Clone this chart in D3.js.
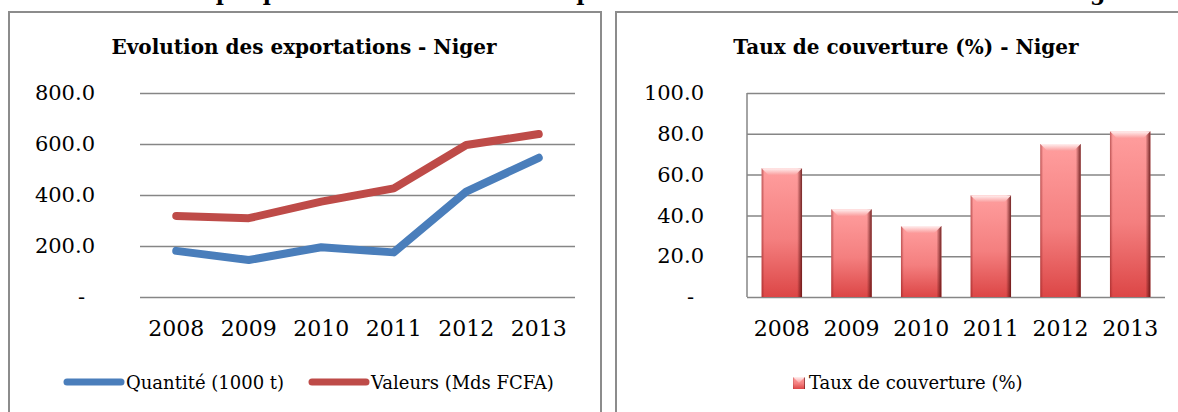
<!DOCTYPE html>
<html>
<head>
<meta charset="utf-8">
<script src="https://cdn.jsdelivr.net/npm/d3@7/dist/d3.min.js"></script>
<style>
  body { margin: 0; background: #fff; }
  svg { display: block; font-family: 'DejaVu Serif', serif; }
  .tick text { fill: #000; }
</style>
</head>
<body>
<div id="canvas"></div>
<script>
const years = ['2008', '2009', '2010', '2011', '2012', '2013'];
const quantite = [181, 145, 195, 175, 413, 546];
const valeurs = [318, 309, 374, 426, 596, 639];
const taux = [63.1, 43.0, 34.8, 49.8, 75.0, 81.2];
const ticksLeft = [0, 200, 400, 600, 800];
const ticksRight = [0, 20, 40, 60, 80, 100];

const w = 1178;
const h = 412;
const fmt = (d) => d === 0 ? '-' : d3.format('.1f')(d);

const svg = d3.select('#canvas')
  .append('svg')
  .attr('width', w)
  .attr('height', h);

const defs = svg.append('defs');
const gBody = defs.append('linearGradient').attr('id', 'barBody')
  .attr('x1', 0).attr('y1', 0).attr('x2', 0).attr('y2', 1);
gBody.append('stop').attr('offset', '0%').attr('stop-color', '#ff9e9e');
gBody.append('stop').attr('offset', '55%').attr('stop-color', '#f47f7f');
gBody.append('stop').attr('offset', '100%').attr('stop-color', '#dc4646');
const gEdge = defs.append('linearGradient').attr('id', 'barEdge')
  .attr('x1', 0).attr('y1', 0).attr('x2', 1).attr('y2', 0);
gEdge.append('stop').attr('offset', '0%').attr('stop-color', '#8a2020').attr('stop-opacity', 0.55);
gEdge.append('stop').attr('offset', '7%').attr('stop-color', '#8a2020').attr('stop-opacity', 0);
gEdge.append('stop').attr('offset', '88%').attr('stop-color', '#5a1010').attr('stop-opacity', 0);
gEdge.append('stop').attr('offset', '100%').attr('stop-color', '#5a1010').attr('stop-opacity', 0.85);
const gTop = defs.append('linearGradient').attr('id', 'barTop')
  .attr('x1', 0).attr('y1', 0).attr('x2', 0).attr('y2', 1);
gTop.append('stop').attr('offset', '0%').attr('stop-color', '#fff0f0');
gTop.append('stop').attr('offset', '100%').attr('stop-color', '#fb9a9a');

// main title, only its lower part shows at the top edge (as in the source)
svg.append('text')
  .attr('x', 651)
  .attr('y', 0)
  .attr('text-anchor', 'middle')
  .style('font-weight', 'bold')
  .style('font-size', '22px')
  .text('Graphique n°1 : Evolution des exportations et du taux de couverture du Niger');

// frames
svg.append('rect')
  .attr('x', 9).attr('y', 12).attr('width', 592).attr('height', 430)
  .attr('fill', 'none').attr('stroke', '#8c8c8c').attr('stroke-width', 2);
svg.append('rect')
  .attr('x', 616).attr('y', 12).attr('width', 600).attr('height', 430)
  .attr('fill', 'none').attr('stroke', '#8c8c8c').attr('stroke-width', 2);

// ---------- left chart: lines ----------
const left = { x0: 140, x1: 575, y0: 297, y1: 93 };
const xL = d3.scaleBand().domain(years).range([left.x0, left.x1]);
const yL = d3.scaleLinear().domain([0, 800]).range([left.y0, left.y1]);

svg.append('text')
  .attr('x', 304).attr('y', 54)
  .attr('text-anchor', 'middle')
  .style('font-weight', 'bold')
  .style('font-size', '20px')
  .text('Evolution des exportations - Niger');

svg.append('g')
  .attr('transform', 'translate(' + left.x0 + ',0)')
  .call(d3.axisLeft(yL).tickValues(ticksLeft).tickSize(-(left.x1 - left.x0)).tickFormat(''))
  .call(g => g.select('.domain').remove())
  .call(g => g.selectAll('line').attr('stroke', '#868686').attr('stroke-width', 1.5));

svg.append('g')
  .attr('transform', 'translate(95,0)')
  .call(d3.axisLeft(yL).tickValues(ticksLeft).tickSize(0).tickPadding(0).tickFormat(fmt))
  .call(g => g.select('.domain').remove())
  .call(g => g.selectAll('text').style('font-size', '21px').style('font-family', 'DejaVu Serif'))
  .call(g => g.selectAll('.tick').filter(d => d === 0).select('text').attr('x', -10));

svg.append('g')
  .attr('transform', 'translate(0,' + left.y0 + ')')
  .call(d3.axisBottom(xL).tickSize(0).tickPadding(23))
  .call(g => g.select('.domain').remove())
  .call(g => g.selectAll('text').style('font-size', '22px').style('font-family', 'DejaVu Serif'));

const line = d3.line()
  .x((d, i) => xL(years[i]) + xL.bandwidth() / 2)
  .y(d => yL(d));

[[valeurs, '#be4b48'], [quantite, '#4a7ebb']].forEach(([vals, col]) => {
  svg.append('path')
    .datum(vals)
    .attr('d', line)
    .attr('fill', 'none')
    .attr('stroke', col)
    .attr('stroke-width', 8)
    .attr('stroke-linecap', 'round')
    .attr('stroke-linejoin', 'round');
});

// left legend
const legL = [
  { label: 'Quantité (1000 t)', color: '#4a7ebb', x: 67 },
  { label: 'Valeurs (Mds FCFA)', color: '#be4b48', x: 312 }
];
legL.forEach(d => {
  svg.append('line')
    .attr('x1', d.x).attr('x2', d.x + 54)
    .attr('y1', 382).attr('y2', 382)
    .attr('stroke', d.color).attr('stroke-width', 7).attr('stroke-linecap', 'round');
  svg.append('text')
    .attr('x', d.x + 59).attr('y', 389)
    .style('font-size', '18px')
    .text(d.label);
});

// ---------- right chart: bars ----------
const right = { x0: 747, x1: 1165, y0: 297, y1: 93 };
const xR = d3.scaleBand().domain(years).range([right.x0, right.x1]).paddingInner(0.42).paddingOuter(0.21);
const yR = d3.scaleLinear().domain([0, 100]).range([right.y0, right.y1]);

svg.append('text')
  .attr('x', 906).attr('y', 54)
  .attr('text-anchor', 'middle')
  .style('font-weight', 'bold')
  .style('font-size', '20px')
  .text('Taux de couverture (%) - Niger');

svg.append('g')
  .attr('transform', 'translate(' + right.x0 + ',0)')
  .call(d3.axisLeft(yR).tickValues(ticksRight).tickSize(-(right.x1 - right.x0)).tickFormat(''))
  .call(g => g.select('.domain').remove())
  .call(g => g.selectAll('line').attr('stroke', '#868686').attr('stroke-width', 1.5));

svg.append('line')
  .attr('x1', right.x0).attr('x2', right.x0)
  .attr('y1', right.y1).attr('y2', right.y0)
  .attr('stroke', '#868686').attr('stroke-width', 1.5);

svg.append('g')
  .attr('transform', 'translate(704,0)')
  .call(d3.axisLeft(yR).tickValues(ticksRight).tickSize(0).tickPadding(0).tickFormat(fmt))
  .call(g => g.select('.domain').remove())
  .call(g => g.selectAll('text').style('font-size', '21px').style('font-family', 'DejaVu Serif'))
  .call(g => g.selectAll('.tick').filter(d => d === 0).select('text').attr('x', -10));

svg.append('g')
  .attr('transform', 'translate(0,' + right.y0 + ')')
  .call(d3.axisBottom(xR).tickSize(0).tickPadding(23))
  .call(g => g.select('.domain').remove())
  .call(g => g.selectAll('text').style('font-size', '22px').style('font-family', 'DejaVu Serif'));

function bevelBar(g, x, y, bw, bh) {
  g.append('rect').attr('x', x).attr('y', y).attr('width', bw).attr('height', bh).attr('fill', 'url(#barBody)');
  g.append('rect').attr('x', x).attr('y', y).attr('width', bw).attr('height', bh).attr('fill', 'url(#barEdge)');
  const b = Math.min(7, bh / 2);
  g.append('polygon')
    .attr('points', [[x, y], [x + bw, y], [x + bw - b, y + b], [x + b, y + b]].join(' '))
    .attr('fill', 'url(#barTop)');
}

const bars = svg.append('g');
taux.forEach((v, i) => {
  bevelBar(bars, xR(years[i]), yR(v), xR.bandwidth(), yR(0) - yR(v));
});

// right legend
const legR = svg.append('g');
bevelBar(legR, 793, 377, 12, 12);
legR.append('text')
  .attr('x', 809).attr('y', 389)
  .style('font-size', '18px')
  .text('Taux de couverture (%)');
</script>
</body>
</html>
